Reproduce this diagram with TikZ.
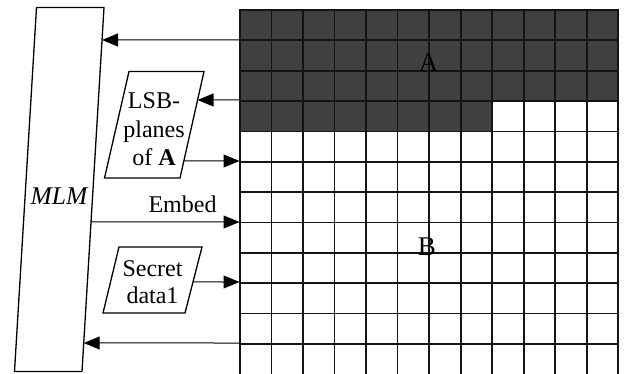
\documentclass[tikz,border=0pt]{standalone}
\usepackage{fontspec}
\setmainfont{Liberation Serif}
\usetikzlibrary{arrows.meta,calc}
\definecolor{darkcell}{RGB}{64,64,64}
\definecolor{gridline}{RGB}{20,20,20}
\begin{document}
\begin{tikzpicture}[x=1pt,y=-1pt,
  boxline/.style={draw=black,line width=1.3pt,fill=white},
  arr/.style={line width=1pt,-{Triangle[length=16pt,width=13pt]}},
  lbl/.style={inner sep=0pt,font=\fontsize{24}{28.8}\selectfont,align=center},
  big/.style={inner sep=0pt,font=\fontsize{27}{30}\selectfont},
  gl/.style={gridline,line width=1.7pt}]
\useasboundingbox (0,0) rectangle (624,374);
\def\cw{31.525}\def\rh{30.35}
% grid
\begin{scope}
\clip (0,0) rectangle (624,374);
\fill[darkcell] (240,10) rectangle (618.3,101.05);
\fill[darkcell] (240,101.05) rectangle (492.3,131.4);
\foreach \i in {0,...,12} \draw[gl] (240+\i*\cw,9.2) -- (240+\i*\cw,380);
\foreach \j in {0,...,11} \draw[gl] (239.2,10+\j*\rh) -- (619.1,10+\j*\rh);
\end{scope}
\node[big,anchor=base] (Alab) at (428.5,71.5) {A};
\node[big,anchor=base] (Blab) at (427,256) {B};
% MLM box
\coordinate (mtl) at (36.5,7.5);
\coordinate (mtr) at (104,7.5);
\coordinate (mbr) at (82,371.5);
\coordinate (mbl) at (14.5,371.5);
\draw[boxline] (mtl) -- (mtr) -- (mbr) -- (mbl) -- cycle;
\node[inner sep=0pt,font=\fontsize{25.5}{30}\selectfont\itshape,anchor=base] (mlm) at (59,205) {MLM};
% LSB box
\coordinate (ltl) at (129,71.5);
\coordinate (ltr) at (204,71.5);
\coordinate (lbr) at (180,178);
\coordinate (lbl) at (104.5,178);
\draw[boxline] (ltl) -- (ltr) -- (lbr) -- (lbl) -- cycle;
\node[lbl,anchor=base] (lsb) at (154,166) {LSB-\\planes\\of \textbf{A}};
% Secret box
\coordinate (stl) at (119,247);
\coordinate (str) at (202,247);
\coordinate (sbr) at (185,313);
\coordinate (sbl) at (103,313);
\draw[boxline] (stl) -- (str) -- (sbr) -- (sbl) -- cycle;
\node[lbl,anchor=base,font=\fontsize{24}{26.7}\selectfont] (sec) at (152.5,303) {Secret\\data1};
% Embed label
\node[lbl,anchor=base] (emb) at (182.5,213) {Embed};
% connector ends
\coordinate (g1) at (239.5,40);
\coordinate (g2) at (239.5,100);
\coordinate (g3) at (239.5,161);
\coordinate (g4) at (239.5,222);
\coordinate (g5) at (239.5,282);
\coordinate (g6) at (239.5,343);
\coordinate (m1) at ($(mtr)!{(40-7.5)/364}!(mbr)$);
\coordinate (m2) at ($(mtr)!{(222-7.5)/364}!(mbr)$);
\coordinate (m3) at ($(mtr)!{(343-7.5)/364}!(mbr)$);
\coordinate (l1) at ($(ltr)!{(100-71.5)/106.5}!(lbr)$);
\coordinate (l2) at ($(ltr)!{(161-71.5)/106.5}!(lbr)$);
\coordinate (s1) at ($(str)!{(282-247)/66}!(sbr)$);
\draw[arr] (g1) -- (m1);
\draw[arr] (g2) -- (l1);
\draw[arr] (l2) -- (g3);
\draw[arr] (m2) -- (g4);
\draw[arr] (s1) -- (g5);
\draw[arr] (g6) -- (m3);
\end{tikzpicture}
\end{document}
